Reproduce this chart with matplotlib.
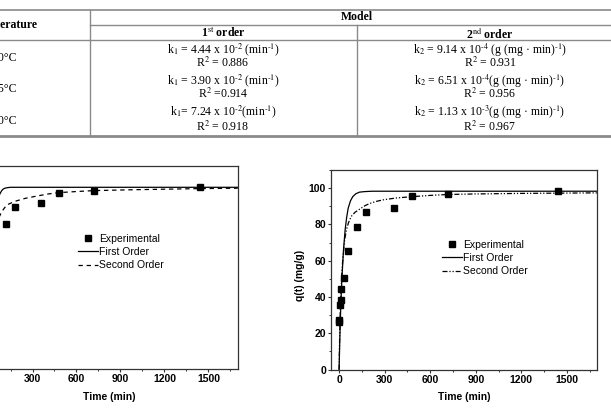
import matplotlib
matplotlib.use('Agg')
import matplotlib.pyplot as plt
from matplotlib.ticker import MultipleLocator, AutoMinorLocator

# table contents
temps = ['20°C', '25°C', '40°C']
first_order = [r'k$_1$ = 4.44 x 10$^{\text{-2}}$ (min$^{\text{-1}}$)',
               r'k$_1$ = 3.90 x 10$^{\text{-2}}$ (min$^{\text{-1}}$)',
               r'k$_1$= 7.24 x 10$^{\text{-2}}$(min$^{\text{-1}}$)']
first_r2 = [r'R$^2$ = 0.886', r'R$^2$ =0.914', r'R$^2$ = 0.918']
second_order = [r'k$_2$ = 9.14 x 10$^{\text{-4}}$ (g (mg · min)$^{\text{-1}}$)',
                r'k$_2$ = 6.51 x 10$^{\text{-4}}$(g (mg · min)$^{\text{-1}}$)',
                r'k$_2$ = 1.13 x 10$^{\text{-3}}$(g (mg · min)$^{\text{-1}}$)']
second_r2 = [r'R$^2$ = 0.931', r'R$^2$ = 0.956', r'R$^2$ = 0.967']

# left plot
left_exp_t = [120, 180, 360, 480, 720, 1440]
left_exp_q = [78.3, 87.5, 89.6, 95.4, 96.5, 98.5]
left_first_t = [40, 50, 60, 70, 79, 90, 101, 115, 130, 150, 180, 250, 1700]
left_first_q = [80.5, 86.5, 90.5, 93.2, 95.0, 96.5, 97.4, 97.9, 98.1, 98.3, 98.3, 98.3, 98.3]
left_second_t = [40, 60, 90, 124, 160, 193, 250, 307, 400, 478, 600, 717, 1000, 1448, 1700]
left_second_q = [73.0, 80.0, 85.1, 88.7, 90.0, 91.0, 92.3, 93.2, 94.6, 95.4, 96.0, 96.5, 97.0, 97.6, 97.8]

# right plot
right_exp_t = [1, 2, 5, 10, 15, 30, 60, 120, 180, 360, 480, 720, 1440]
right_exp_q = [26.3, 27.3, 35.8, 38.1, 44.6, 50.5, 65.5, 78.3, 87.1, 89.3, 95.4, 96.5, 98.3]
right_first_t = [0, 5, 10, 15, 20, 30, 40, 50, 60, 75, 90, 110, 135, 170, 220, 300, 1700]
right_first_q = [0, 17.6, 31.9, 43.4, 52.6, 67.0, 77.2, 84.0, 89.0, 93.0, 95.3, 96.9, 97.8, 98.1, 98.3, 98.3, 98.3]
right_second_t = [0, 3, 7, 12, 18, 26, 36, 48, 62, 80, 105, 135, 170, 200, 250, 300, 380,
                  480, 600, 720, 900, 1200, 1700]
right_second_q = [0, 15, 30, 42, 53, 63, 71, 77, 81, 84.4, 86.7, 88.4, 90.3, 91.5, 92.8, 93.7,
                  94.6, 95.3, 96.0, 96.5, 96.8, 97.1, 97.4]

W, H = 611, 408
plt.rcParams['font.family'] = ['Liberation Sans', 'DejaVu Sans']
plt.rcParams['mathtext.fontset'] = 'stix'

fig = plt.figure(figsize=(W / 100, H / 100), dpi=100)

# ---- table, drawn in pixel coordinates
tab = fig.add_axes([0, 0, 1, 1])
tab.set_xlim(0, W)
tab.set_ylim(H, 0)
tab.axis('off')
tab.patch.set_alpha(0)
lc = '#8a8a8a'
tab.plot([0, W], [10, 10], color=lc, lw=1.2)
tab.plot([90, W], [25, 25], color=lc, lw=1.0)
tab.plot([0, W], [40, 40], color=lc, lw=1.0)
tab.plot([0, W], [136, 136], color=lc, lw=2.0)
tab.plot([90, 90], [10, 136], color=lc, lw=1.0)
tab.plot([357, 357], [25, 136], color=lc, lw=1.0)

serif = ['Liberation Serif', 'DejaVu Serif']
fs = 8.5
tab.text(38, 25, 'Temperature', ha='right', va='center', family=serif,
         fontsize=fs, fontweight='bold')
tab.text(357, 17, 'Model', ha='center', va='center', family=serif,
         fontsize=fs, fontweight='bold')
tab.text(223, 33, r'1$^{\rm st}$ order', ha='center', va='center', family=serif,
         fontsize=fs, fontweight='bold')
tab.text(490, 33, r'2$^{\rm nd}$ order', ha='center', va='center', family=serif,
         fontsize=fs, fontweight='bold')

row_k = [50, 81, 112]
row_r = [63, 94, 127]
row_t = [58, 89, 121]
for i in range(3):
    tab.text(17, row_t[i], temps[i], ha='right', va='center', family=serif, fontsize=fs)
    tab.text(223, row_k[i], first_order[i], ha='center', va='center', family=serif, fontsize=fs)
    tab.text(223, row_r[i], first_r2[i], ha='center', va='center', family=serif, fontsize=fs)
    tab.text(490, row_k[i], second_order[i], ha='center', va='center', family=serif, fontsize=fs)
    tab.text(490, row_r[i], second_r2[i], ha='center', va='center', family=serif, fontsize=fs)


def px_axes(x0, x1, y0, y1):
    return fig.add_axes([x0 / W, 1 - y1 / H, (x1 - x0) / W, (y1 - y0) / H])


def style(ax):
    ax.set_xlim(-50, 1700)
    ax.set_ylim(0, 110)
    ax.xaxis.set_major_locator(MultipleLocator(300))
    ax.xaxis.set_minor_locator(AutoMinorLocator(2))
    ax.yaxis.set_major_locator(MultipleLocator(20))
    ax.yaxis.set_minor_locator(AutoMinorLocator(2))
    for s in ax.spines.values():
        s.set_color('#333333')
        s.set_linewidth(0.9)
    ax.tick_params(which='major', direction='out', length=2.5, width=0.8,
                   color='#333333', labelsize=7.5, pad=1.5)
    ax.tick_params(which='minor', direction='out', length=1.6, width=0.7, color='#333333')
    for lab in ax.get_xticklabels() + ax.get_yticklabels():
        lab.set_fontweight('bold')
    ax.set_xlabel('Time (min)', fontsize=7.5, fontweight='bold')
    ax.set_ylabel('q(t) (mg/g)', fontsize=7.5, fontweight='bold')
    ax.xaxis.set_label_coords(0.5, -0.115)
    ax.yaxis.set_label_coords(-0.1, 0.47)


# ---- left plot (cropped on the left)
axl = px_axes(-18.8, 237.7, 165.7, 368.7)
axl.plot(left_exp_t, left_exp_q, 's', color='black', ms=4.3, label='Experimental', zorder=3)
axl.plot(left_first_t, left_first_q, '-', color='black', lw=0.9, label='First Order')
axl.plot(left_second_t, left_second_q, color='black', lw=0.9, ls=(0, (3.5, 3)),
         label='Second Order')
style(axl)
axl.legend(loc='upper left', bbox_to_anchor=(78 / W, 1 - 234 / H), bbox_transform=fig.transFigure,
           frameon=False, fontsize=7.5, borderpad=0, borderaxespad=0, handlelength=1.9,
           handletextpad=0.15, labelspacing=0.3, numpoints=1)

# ---- right plot
axr = px_axes(331.5, 597.3, 170, 369.5)
axr.plot(right_exp_t, right_exp_q, 's', color='black', ms=4.3, label='Experimental', zorder=3)
axr.plot(right_first_t, right_first_q, '-', color='black', lw=0.9, label='First Order')
axr.plot(right_second_t, right_second_q, color='black', lw=0.9,
         ls=(0, (4, 1.5, 1, 1.5, 1, 1.5)), label='Second Order')
style(axr)
axr.legend(loc='upper left', bbox_to_anchor=(442 / W, 1 - 240 / H), bbox_transform=fig.transFigure,
           frameon=False, fontsize=7.5, borderpad=0, borderaxespad=0, handlelength=1.9,
           handletextpad=0.15, labelspacing=0.3, numpoints=1)

fig.savefig('out.png', dpi=100)
